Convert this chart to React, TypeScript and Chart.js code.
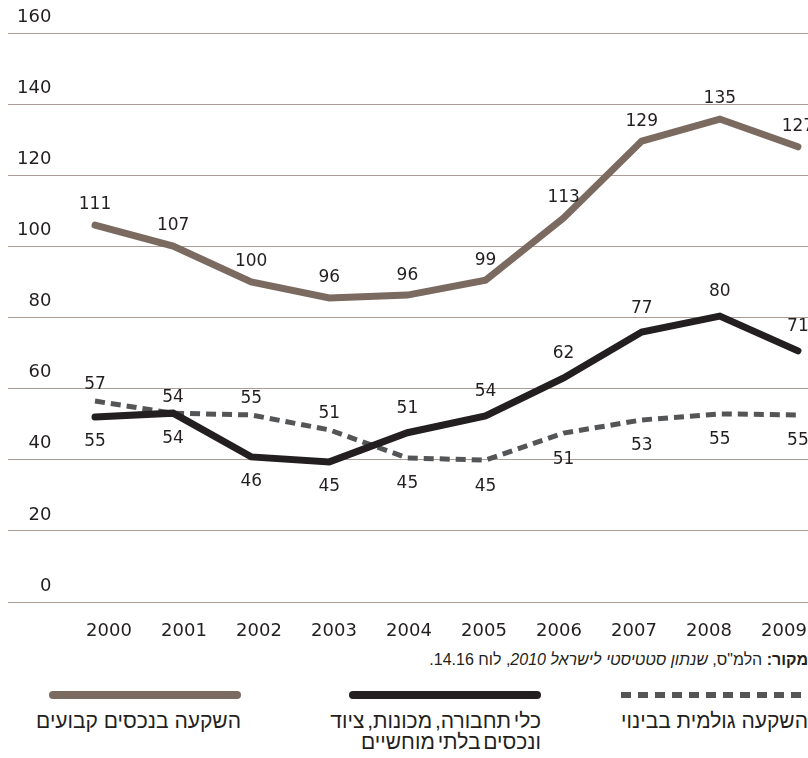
import React, { useEffect, useRef } from 'react';
import { Chart, registerables } from 'chart.js';

Chart.register(...registerables);

// ---- data ----
const years = [2000, 2001, 2002, 2003, 2004, 2005, 2006, 2007, 2008, 2009];
const yTicks = [0, 20, 40, 60, 80, 100, 120, 140, 160];

// plotted line positions (as drawn in the picture)
const fixedAssets = [106.0, 100.1, 90.0, 85.5, 86.3, 90.5, 108.0, 129.6, 135.8, 128.0];
const vehicles = [52.0, 53.1, 40.8, 39.4, 47.6, 52.3, 63.0, 75.9, 80.4, 70.6];
const construction = [56.5, 53.1, 52.6, 48.4, 40.5, 39.9, 47.5, 51.2, 52.9, 52.6];

// printed value labels
const fixedAssetsLabels = [111, 107, 100, 96, 96, 99, 113, 129, 135, 127];
const vehiclesLabels = [55, 54, 46, 45, 51, 54, 62, 77, 80, 71];
const constructionLabels = [57, 54, 55, 51, 45, 45, 51, 53, 55, 55];

const seriesNames = [
  'השקעה בנכסים קבועים',
  'כלי תחבורה, מכונות, ציוד\nונכסים בלתי מוחשיים',
  'השקעה גולמית בבינוי',
];

const BROWN = '#7b6a60';
const BLACK = '#231f20';
const DASH = '#545557';
const GRID = '#ab9d95';
const TEXT = '#231f20';
const NUM_FONT = '"DejaVu Sans", sans-serif';
const HEB_FONT = '"Liberation Sans", "DejaVu Sans", sans-serif';

const valueLabelPlugin = {
  id: 'valueLabels',
  afterDatasetsDraw(chart: any) {
    const ctx = chart.ctx;
    ctx.save();
    ctx.font = `17px ${NUM_FONT}`;
    ctx.fillStyle = TEXT;
    ctx.textAlign = 'center';
    ctx.textBaseline = 'middle';
    const dss = chart.data.datasets;
    dss.forEach((ds: any, di: number) => {
      const meta = chart.getDatasetMeta(di);
      meta.data.forEach((pt: any, i: number) => {
        const v = ds.data[i];
        let nd = Infinity;
        let nv = v;
        let ni = -1;
        dss.forEach((o: any, oi: number) => {
          if (oi === di) return;
          const d = Math.abs(o.data[i] - v);
          if (d < nd) { nd = d; nv = o.data[i]; ni = oi; }
        });
        const above = v > nv || (v === nv && di > ni);
        const off = above ? ds.labelAbove : ds.labelBelow;
        ctx.fillText(String(ds.valueLabels[i]), pt.x, pt.y + off);
      });
    });
    ctx.restore();
  },
};

export default function App() {
  const ref = useRef<HTMLCanvasElement | null>(null);

  useEffect(() => {
    if (!ref.current) return;
    const chart = new Chart(ref.current, {
      type: 'line',
      data: {
        labels: years,
        datasets: [
          {
            label: seriesNames[0],
            data: fixedAssets,
            valueLabels: fixedAssetsLabels,
            labelAbove: -20,
            labelBelow: 24,
            borderColor: BROWN,
            borderWidth: 7,
            borderCapStyle: 'round',
            pointRadius: 0,
            tension: 0,
            xAxisID: 'x',
            yAxisID: 'y',
          } as any,
          {
            label: seriesNames[1],
            data: vehicles,
            valueLabels: vehiclesLabels,
            labelAbove: -24,
            labelBelow: 25,
            borderColor: BLACK,
            borderWidth: 7,
            borderCapStyle: 'round',
            pointRadius: 0,
            tension: 0,
            xAxisID: 'x',
            yAxisID: 'y',
          } as any,
          {
            label: seriesNames[2],
            data: construction,
            valueLabels: constructionLabels,
            labelAbove: -16,
            labelBelow: 26,
            borderColor: DASH,
            borderWidth: 5,
            borderDash: [10, 6],
            borderCapStyle: 'butt',
            pointRadius: 0,
            tension: 0,
            xAxisID: 'x',
            yAxisID: 'y',
          } as any,
        ],
      },
      options: {
        responsive: false,
        animation: false,
        events: [],
        layout: { padding: { top: 25, left: 0, right: 0, bottom: 0 } },
        plugins: { legend: { display: false }, tooltip: { enabled: false } },
        scales: {
          x: {
            type: 'linear',
            display: false,
            min: years[0] - 1.114,
            max: years[0] + 9.129,
          },
          xl: {
            type: 'linear',
            axis: 'x',
            position: 'bottom',
            min: years[0] - 1.347,
            max: years[0] + 9.32,
            grid: { display: false, drawTicks: false },
            border: { display: false },
            afterBuildTicks: (s: any) => {
              s.ticks = years.map((v) => ({ value: v }));
            },
            afterFit: (s: any) => {
              s.height = 46;
              s.paddingLeft = 0;
              s.paddingRight = 0;
            },
            ticks: {
              autoSkip: false,
              maxRotation: 0,
              padding: 19,
              color: TEXT,
              font: { family: NUM_FONT, size: 18 },
              callback: (v: any) => String(v),
            },
          } as any,
          y: {
            type: 'linear',
            min: yTicks[0],
            max: yTicks[yTicks.length - 1],
            grid: { color: GRID, lineWidth: 1, drawTicks: false },
            border: { display: false },
            afterFit: (s: any) => {
              s.width = 0;
              s.paddingTop = 0;
              s.paddingBottom = 0;
            },
            ticks: {
              stepSize: yTicks[1] - yTicks[0],
              mirror: true,
              crossAlign: 'far',
              padding: 9,
              labelOffset: -16,
              color: TEXT,
              font: { family: NUM_FONT, size: 18 },
              callback: (v: any) => String(v),
            },
          } as any,
        },
      },
      plugins: [valueLabelPlugin],
    } as any);
    return () => chart.destroy();
  }, []);

  const legendLine = (kind: number): React.CSSProperties => {
    if (kind === 2) {
      return {
        height: 6,
        background: `repeating-linear-gradient(to right, ${DASH} 0 10px, transparent 10px 17px)`,
      };
    }
    return { height: 8, borderRadius: 4, background: kind === 0 ? BROWN : BLACK };
  };

  const legendPos = [
    { lineLeft: 41, lineWidth: 192, textRight: 567, wordSpacing: 0 },
    { lineLeft: 341, lineWidth: 192, textRight: 267, wordSpacing: -3 },
    { lineLeft: 613, lineWidth: 190, textRight: 0, wordSpacing: 0 },
  ];

  return (
    <>
      <style>{`html, body { overflow: hidden; } body { margin: 8px 0 0 8px; width: 800px; }`}</style>
      <div style={{ position: 'relative', width: 800, height: 742, overflow: 'hidden' }}>
        <canvas ref={ref} width={800} height={640} style={{ display: 'block' }} />
        <div
          style={{
            position: 'absolute',
            top: 643,
            right: 0,
            direction: 'rtl',
            whiteSpace: 'nowrap',
            fontFamily: HEB_FONT,
            fontSize: 16,
            lineHeight: '18px',
            color: TEXT,
          }}
        >
          <b>מקור:</b> הלמ"ס, <i>שנתון סטטיסטי לישראל 2010</i>, לוח 14.16.
        </div>
        {seriesNames.map((name, k) => (
          <React.Fragment key={k}>
            <div
              style={{
                position: 'absolute',
                top: k === 2 ? 684 : 683,
                left: legendPos[k].lineLeft,
                width: legendPos[k].lineWidth,
                ...legendLine(k),
              }}
            />
            <div
              style={{
                position: 'absolute',
                top: 702,
                right: legendPos[k].textRight,
                direction: 'rtl',
                textAlign: 'right',
                whiteSpace: 'pre-line',
                fontFamily: HEB_FONT,
                fontSize: 21,
                lineHeight: '21px',
                wordSpacing: legendPos[k].wordSpacing,
                color: TEXT,
              }}
            >
              {name}
            </div>
          </React.Fragment>
        ))}
      </div>
    </>
  );
}
